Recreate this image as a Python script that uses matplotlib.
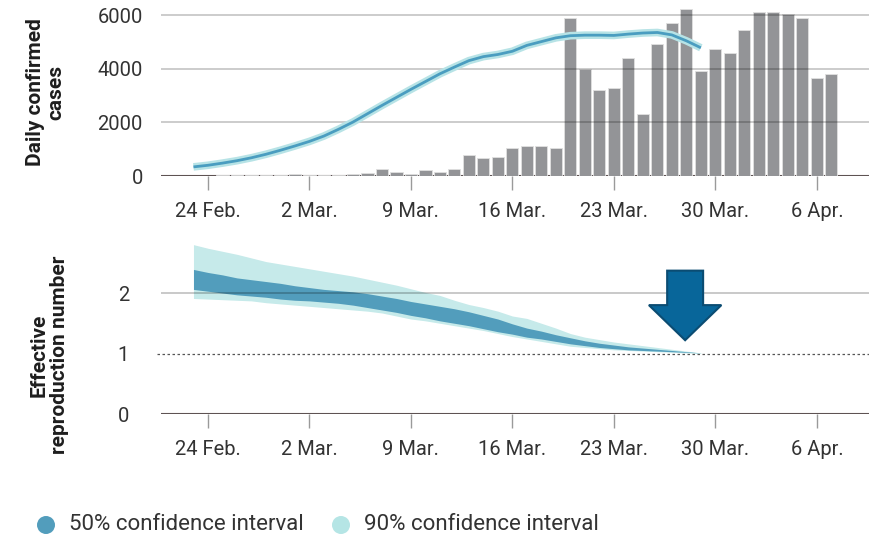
import numpy as np
import matplotlib
matplotlib.use("Agg")
import matplotlib.pyplot as plt
import matplotlib.dates as mdates
from matplotlib.patches import FancyArrow, Ellipse

plt.rcParams['font.family'] = ['Roboto', 'DejaVu Sans']

# ---------------- data ----------------
bar_dates = np.arange(np.datetime64('2020-02-25'), np.datetime64('2020-04-08'))
daily_cases = [55, 55, 55, 55, 55, 90, 55, 55, 55, 65,
               125, 260, 150, 75, 235, 150, 260, 800, 670, 720,
               1030, 1130, 1130, 1030, 5900, 4000, 3210, 3270, 4390, 2300,
               4930, 5700, 6230, 3920, 4730, 4580, 5440, 6130, 6130, 6030,
               5900, 3650, 3800]

est_dates = np.arange(np.datetime64('2020-02-23'), np.datetime64('2020-03-30'))
nowcast = [340, 400, 480, 570, 680, 810, 960, 1120, 1290, 1490,
           1740, 2010, 2320, 2630, 2930, 3230, 3520, 3810, 4060, 4300,
           4450, 4530, 4650, 4870, 5010, 5150, 5230, 5250, 5250, 5240,
           5290, 5330, 5350, 5260, 5040, 4780]

r_q05 = [1.91, 1.90, 1.89, 1.88, 1.87, 1.84, 1.82, 1.80, 1.78, 1.76,
         1.74, 1.72, 1.70, 1.67, 1.62, 1.57, 1.54, 1.50, 1.46, 1.42,
         1.38, 1.33, 1.28, 1.24, 1.20, 1.16, 1.12, 1.10, 1.08, 1.06,
         1.05, 1.04, 1.03, 1.02, 1.01, 1.00]
r_q25 = [2.06, 2.03, 2.00, 1.97, 1.95, 1.93, 1.90, 1.88, 1.87, 1.85,
         1.83, 1.80, 1.76, 1.72, 1.68, 1.63, 1.59, 1.54, 1.50, 1.46,
         1.41, 1.36, 1.32, 1.27, 1.24, 1.20, 1.16, 1.13, 1.10, 1.08,
         1.06, 1.05, 1.04, 1.03, 1.02, 1.01]
r_q75 = [2.39, 2.34, 2.30, 2.25, 2.22, 2.19, 2.16, 2.12, 2.09, 2.06,
         2.04, 2.02, 1.99, 1.95, 1.91, 1.86, 1.82, 1.78, 1.74, 1.69,
         1.63, 1.57, 1.49, 1.42, 1.37, 1.31, 1.26, 1.21, 1.17, 1.14,
         1.11, 1.09, 1.07, 1.05, 1.03, 1.01]
r_q95 = [2.80, 2.74, 2.69, 2.64, 2.58, 2.52, 2.48, 2.44, 2.40, 2.36,
         2.32, 2.28, 2.23, 2.18, 2.13, 2.07, 2.01, 1.96, 1.88, 1.81,
         1.76, 1.70, 1.62, 1.58, 1.50, 1.42, 1.33, 1.27, 1.23, 1.19,
         1.16, 1.13, 1.10, 1.07, 1.04, 1.01]

tick_dates = np.array(['2020-02-24', '2020-03-02', '2020-03-09', '2020-03-16',
                       '2020-03-23', '2020-03-30', '2020-04-06'], dtype='datetime64[D]')
tick_labels = ['24 Feb.', '2 Mar.', '9 Mar.', '16 Mar.', '23 Mar.', '30 Mar.', '6 Apr.']
case_ticks = [0, 2000, 4000, 6000]
r_ticks = [0, 1, 2]
arrow_date = np.datetime64('2020-03-27T22:00')
arrow_top, arrow_tip = 2.37, 1.22

# ---------------- style ----------------
C50 = '#529dbc'
C90 = '#c6eaea'
LINE = '#4a9dc0'
BAR = '#939497'
AXIS = '#5e5353'
TXT = '#333333'

W, H = 869, 540
fig = plt.figure(figsize=(W / 100, H / 100), dpi=100)
ax1 = fig.add_axes([161 / W, (H - 176) / H, 708 / W, 169 / H])
ax2 = fig.add_axes([161 / W, (H - 414) / H, 708 / W, 174.2 / H])

xmin = mdates.date2num(np.datetime64('2020-02-24')) - 3.24
xmax = mdates.date2num(np.datetime64('2020-02-24')) + 45.6

bx = mdates.date2num(bar_dates)
ex = mdates.date2num(est_dates)

# top panel
ax1.axhline(0, color=AXIS, lw=1.5, zorder=1)
ax1.bar(bx, daily_cases, width=0.84, color=BAR, edgecolor='#e0e0e0', linewidth=0.6, zorder=2)
ax1.plot(ex, nowcast, color='#b7e3e6', lw=5.5, solid_capstyle='butt', zorder=6)
ax1.plot(ex, nowcast, color=LINE, lw=2.0, solid_capstyle='butt', zorder=7)
for v in case_ticks[1:]:
    ax1.axhline(v, color='black', alpha=0.2, lw=1.4, zorder=5)
ax1.set_ylim(0, 6300)
ax1.set_yticks(case_ticks)
ax1.set_yticklabels([str(v) for v in case_ticks])
ax1.tick_params(axis='y', length=0, pad=13, labelsize=14.5, labelcolor=TXT)

# bottom panel
ax2.fill_between(ex, r_q05, r_q95, color=C90, lw=0, zorder=2)
ax2.fill_between(ex, r_q25, r_q75, color=C50, lw=0, zorder=3)
ax2.axhline(2, color='black', alpha=0.25, lw=1.2, zorder=5)
ax2.axhline(1, color='#555555', lw=0.9, ls=(0, (2, 2)), zorder=5, xmin=-0.006, clip_on=False)
ax2.axhline(0, color=AXIS, lw=1.5, zorder=8)
ax2.set_ylim(0, 2.88)
ax2.set_yticks(r_ticks)
ax2.set_yticklabels([str(v) for v in r_ticks])
ax2.tick_params(axis='y', length=0, pad=23, labelsize=14.5, labelcolor=TXT)

ax_x = mdates.date2num(arrow_date)
arr = FancyArrow(ax_x, arrow_top, 0, arrow_tip - arrow_top, width=2.48, head_width=5.0,
                 head_length=0.58, length_includes_head=True,
                 facecolor='#08669a', edgecolor='#0b4c72', lw=1.5, zorder=10)
ax2.add_patch(arr)

for ax in (ax1, ax2):
    ax.set_xlim(xmin, xmax)
    for s in ax.spines.values():
        s.set_visible(False)
    ax.set_xticks(mdates.date2num(tick_dates))
    ax.set_xticklabels(tick_labels)
    ax.tick_params(axis='x', length=10, width=1.0, color='#9a9a9a', pad=9,
                   labelsize=14.5, labelcolor=TXT)
    ax.set_facecolor('none')

fig.text(46 / W, 1 - 92 / H, 'Daily confirmed\ncases', rotation=90, ha='center', va='center',
         multialignment='center', fontsize=15, fontweight='bold', color='#1e1e1e',
         linespacing=1.08)
fig.text(49 / W, 1 - 355 / H, 'Effective\nreproduction number', rotation=90, ha='center',
         va='center', multialignment='center', fontsize=15, fontweight='bold', color='#1e1e1e',
         linespacing=1.08)

# legend
for cx, col, lab in [(46, C50, '50% confidence interval'), (341, '#b5e5e5', '90% confidence interval')]:
    fig.add_artist(Ellipse((cx / W, 1 - 525 / H), 18 / W, 18 / H, transform=fig.transFigure,
                           facecolor=col, edgecolor='none'))
    fig.text((cx + 23) / W, 1 - 525 / H, lab, ha='left', va='center', fontsize=16, color=TXT)

fig.savefig('out.png', dpi=100)
